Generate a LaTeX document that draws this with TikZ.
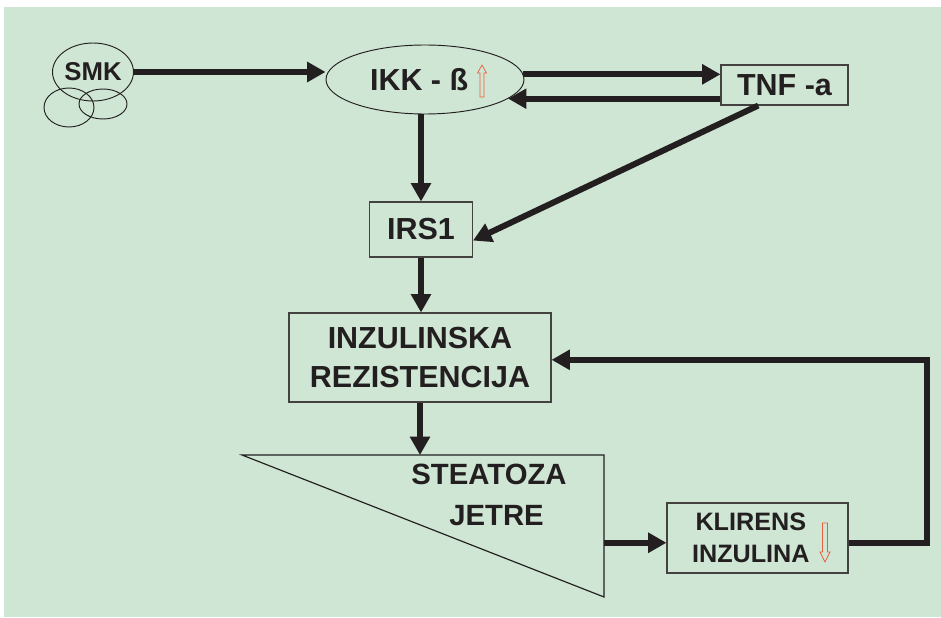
\documentclass[tikz,border=0pt]{standalone}
\usepackage{fontspec}
\setmainfont{Liberation Sans}
\usetikzlibrary{arrows.meta,shapes.geometric}
\definecolor{bggreen}{HTML}{CEE6D3}
\definecolor{ink}{HTML}{231F20}
\definecolor{upred}{HTML}{E8603C}

\begin{document}
\begin{tikzpicture}[x=0.03cm,y=-0.03cm,
    arr/.style={line width=0.18cm,draw=ink,-{Triangle[length=0.55cm,width=0.58cm]}},
    box/.style={rectangle,draw=ink!85,line width=0.9pt,align=center,inner sep=0pt,text=ink,
                font=\bfseries\fontsize{26}{33}\selectfont},
    oval/.style={ellipse,draw=ink,line width=0.8pt,inner sep=0pt,text=ink},
    redarr/.style={draw=upred,line width=0.6pt,line join=miter}]
  \useasboundingbox (0,0) rectangle (941,618);
  \fill[bggreen] (4,7) rectangle (941,617);

  % nodes
  \node (smk) at (93,72) [oval,minimum width=2.4cm,minimum height=1.74cm,
        font=\bfseries\fontsize{22}{26}\selectfont] {SMK};
  \node (c1) at (69,107.5) [oval,minimum width=1.5cm,minimum height=1.17cm] {};
  \node (c2) at (103,104) [oval,minimum width=1.44cm,minimum height=0.9cm] {};
  \node (ikk) at (425,79.5) [oval,minimum width=5.94cm,minimum height=2.07cm,
        font=\bfseries\fontsize{26}{30}\selectfont] {IKK - ß\hspace*{0.35cm}};
  \node (tnf) at (784.5,85) [box,minimum width=3.81cm,minimum height=1.2cm] {TNF -a};
  \node (irs) at (421,229.5) [box,minimum width=3.09cm,minimum height=1.65cm] {IRS1};
  \node (inz) at (420,357.5) [box,minimum width=7.86cm,minimum height=2.67cm]
        {INZULINSKA\\REZISTENCIJA};
  \node (kli) at (757.5,538) [box,minimum width=5.43cm,minimum height=2.1cm,
        font=\bfseries\fontsize{21.5}{27}\selectfont]
        {KLIRENS\hspace*{0.4cm}\\INZULINA\hspace*{0.4cm}};

  % jetra
  \coordinate (tl) at (242,455);
  \coordinate (tr) at (604,455);
  \coordinate (br) at (604,597);
  \draw[ink,line width=1pt] (tl) -- (tr) -- (br) -- cycle;
  \node (ste) at (489,495) [text=ink,align=center,inner sep=0pt,
        font=\bfseries\fontsize{25}{35}\selectfont] {STEATOZA\\\hspace*{0.45cm}JETRE};

  % red arrows
  \draw[redarr] ([shift={(55,17.5)}]ikk.center) -- ++(0,-24) -- ++(-2.5,0) -- ++(4.5,-8)
        -- ++(4.5,8) -- ++(-2.5,0) -- ++(0,24) -- cycle;
  \draw[redarr] ([shift={(65,-15)}]kli.center) -- ++(0,29) -- ++(-2.5,0) -- ++(5,10)
        -- ++(5,-10) -- ++(-2.5,0) -- ++(0,-29) -- cycle;

  % connectors
  \draw[arr] (smk.east) -- (smk.east -| ikk.west);
  \draw[arr] (ikk.3) -- (ikk.3 -| tnf.west);
  \draw[arr] (tnf.west |- ikk.-13) -- (ikk.-13);
  \draw[arr] (tnf.-142) -- (irs.-12);
  \draw[arr] (ikk.south -| irs.north) -- (irs.north);
  \draw[arr] (irs.south) -- (irs.south |- inz.north);
  \draw[arr] (inz.south) -- (inz.south |- tl);
  \draw[arr] (kli.183 -| tr) -- (kli.183);
  \draw[arr] (kli.-3) -- ++(78,0) |- (inz.-1);
\end{tikzpicture}
\end{document}
